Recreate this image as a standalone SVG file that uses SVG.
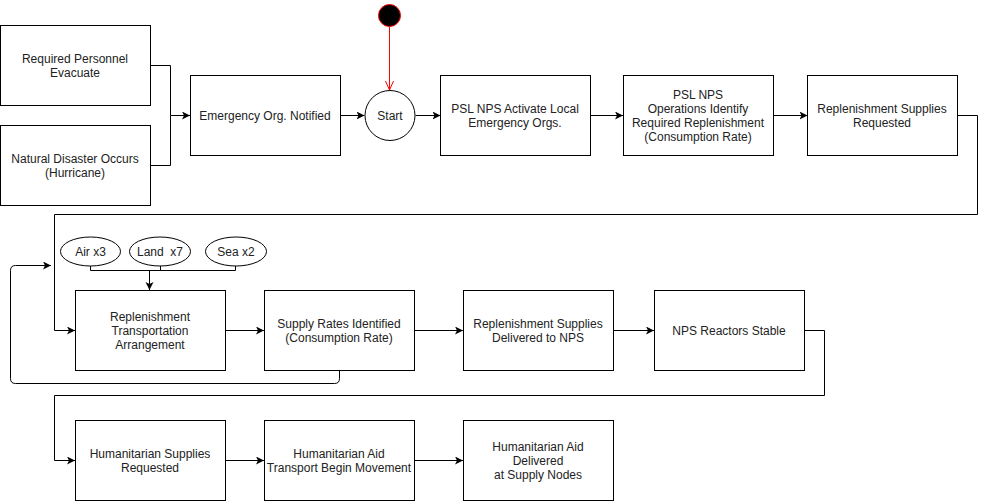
<svg xmlns="http://www.w3.org/2000/svg" width="986" height="502" viewBox="0 0 986 502">
<defs>
<style>
.box{fill:#fff;stroke:#000;stroke-width:1}
.t{font-family:"Liberation Sans",Arial,sans-serif;font-size:12px;fill:#222;text-anchor:middle;white-space:pre}
.c{fill:none;stroke:#000;stroke-width:1}
</style>
<marker id="arr" markerUnits="userSpaceOnUse" markerWidth="10" markerHeight="10" refX="8" refY="4" orient="auto">
<path d="M0,0 L8,4 L0,8 L2,4 z" fill="#000"/>
</marker>
<marker id="open" markerUnits="userSpaceOnUse" markerWidth="12" markerHeight="12" refX="9" refY="5" orient="auto">
<path d="M0,1 L9,5 L0,9" fill="none" stroke="#f00" stroke-width="1"/>
</marker>
</defs>
<rect width="986" height="502" fill="#fff"/>
<g id="connectors">
<path class="c" d="M150.5,65.5 H170.5 V115.5 H190" marker-end="url(#arr)"/>
<path class="c" d="M150.5,165.5 H170.5 V115.5"/>
<path d="M389.5,27 V90" fill="none" stroke="#f00" stroke-width="1" marker-end="url(#open)"/>
<path class="c" d="M340.5,115.5 H364.5" marker-end="url(#arr)"/>
<path class="c" d="M415.5,115.5 H440.5" marker-end="url(#arr)"/>
<path class="c" d="M590.5,115.5 H623" marker-end="url(#arr)"/>
<path class="c" d="M773.5,115.5 H807.5" marker-end="url(#arr)"/>
<path class="c" d="M957.5,115.5 H977.5 V214.5 H54.5 V330.5 H75" marker-end="url(#arr)"/>
<path class="c" d="M90.5,266 V270.5 H235.5 V266 M160.5,266 V270.5"/>
<path class="c" d="M149.5,270.5 V290" marker-end="url(#arr)"/>
<path class="c" d="M225.5,330.5 H264" marker-end="url(#arr)"/>
<path class="c" d="M414.5,330.5 H463" marker-end="url(#arr)"/>
<path class="c" d="M613.5,330.5 H654" marker-end="url(#arr)"/>
<path class="c" d="M339.5,370.5 V378.5 Q339.5,383.5 334.5,383.5 H15.5 Q10.5,383.5 10.5,378.5 V270.5 Q10.5,265.5 15.5,265.5 H51" marker-end="url(#arr)"/>
<path class="c" d="M804.5,330.5 H824.5 V395.5 H54.5 V460.5 H75" marker-end="url(#arr)"/>
<path class="c" d="M225.5,460.5 H264" marker-end="url(#arr)"/>
<path class="c" d="M414.5,460.5 H463" marker-end="url(#arr)"/>
</g>
<g id="n-evacuate"><rect class="box" x="0.5" y="25.5" width="150" height="80"/><text class="t" x="75" y="63">Required Personnel</text><text class="t" x="75" y="77">Evacuate</text></g>
<g id="n-disaster"><rect class="box" x="0.5" y="125.5" width="150" height="80"/><text class="t" x="75" y="163">Natural Disaster Occurs</text><text class="t" x="75" y="177">(Hurricane)</text></g>
<g id="n-notified"><rect class="box" x="190.5" y="75.5" width="150" height="80"/><text class="t" x="265" y="120">Emergency Org. Notified</text></g>
<g id="n-initial"><circle cx="389.5" cy="15.5" r="11" fill="#000" stroke="#f00" stroke-width="1"/></g>
<g id="n-start"><circle cx="390" cy="115.5" r="25" fill="#fff" stroke="#000" stroke-width="1"/><text class="t" x="390" y="120">Start</text></g>
<g id="n-activate"><rect class="box" x="440.5" y="75.5" width="150" height="80"/><text class="t" x="515" y="113">PSL NPS Activate Local</text><text class="t" x="515" y="127">Emergency Orgs.</text></g>
<g id="n-identify"><rect class="box" x="623.5" y="75.5" width="150" height="80"/><text class="t" x="698" y="99">PSL NPS</text><text class="t" x="698" y="113">Operations Identify</text><text class="t" x="698" y="127">Required Replenishment</text><text class="t" x="698" y="141">(Consumption Rate)</text></g>
<g id="n-requested"><rect class="box" x="807.5" y="75.5" width="150" height="80"/><text class="t" x="882" y="113">Replenishment Supplies</text><text class="t" x="882" y="127">Requested</text></g>
<g id="n-air"><ellipse cx="90.5" cy="251.5" rx="30" ry="14.5" fill="#fff" stroke="#000"/><text class="t" x="90.5" y="256">Air x3</text></g>
<g id="n-land"><ellipse cx="160" cy="251.5" rx="30.5" ry="14.5" fill="#fff" stroke="#000"/><text class="t" x="160" y="256">Land  x7</text></g>
<g id="n-sea"><ellipse cx="236" cy="251.5" rx="30.5" ry="14.5" fill="#fff" stroke="#000"/><text class="t" x="236" y="256">Sea x2</text></g>
<g id="n-transport"><rect class="box" x="75.5" y="290.5" width="150" height="80"/><text class="t" x="150" y="321">Replenishment</text><text class="t" x="150" y="335">Transportation</text><text class="t" x="150" y="349">Arrangement</text></g>
<g id="n-rates"><rect class="box" x="264.5" y="290.5" width="150" height="80"/><text class="t" x="339" y="328">Supply Rates Identified</text><text class="t" x="339" y="342">(Consumption Rate)</text></g>
<g id="n-delivered"><rect class="box" x="463.5" y="290.5" width="150" height="80"/><text class="t" x="538" y="328">Replenishment Supplies</text><text class="t" x="538" y="342">Delivered to NPS</text></g>
<g id="n-stable"><rect class="box" x="654.5" y="290.5" width="150" height="80"/><text class="t" x="729" y="335">NPS Reactors Stable</text></g>
<g id="n-hum-requested"><rect class="box" x="75.5" y="420.5" width="150" height="80"/><text class="t" x="150" y="458">Humanitarian Supplies</text><text class="t" x="150" y="472">Requested</text></g>
<g id="n-hum-transport"><rect class="box" x="264.5" y="420.5" width="150" height="80"/><text class="t" x="339" y="458">Humanitarian Aid</text><text class="t" x="339" y="472">Transport Begin Movement</text></g>
<g id="n-hum-delivered"><rect class="box" x="463.5" y="420.5" width="150" height="80"/><text class="t" x="538" y="451">Humanitarian Aid</text><text class="t" x="538" y="465">Delivered</text><text class="t" x="538" y="479">at Supply Nodes</text></g>
</svg>
